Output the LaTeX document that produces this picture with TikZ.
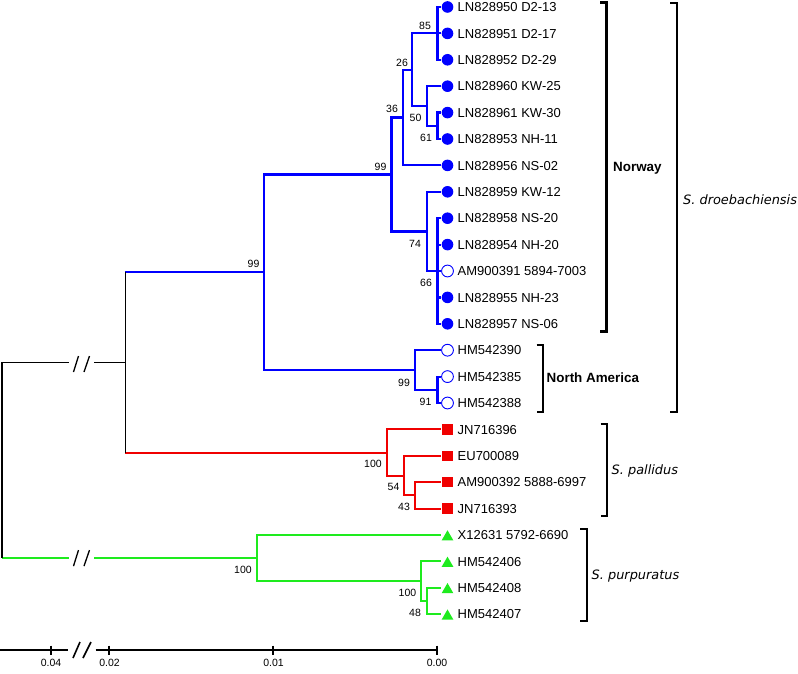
\documentclass[tikz,border=0pt]{standalone}
\usepackage{fontspec}
\setmainfont{Liberation Sans}
\newfontfamily\dvs{DejaVu Sans}
\usetikzlibrary{shapes.geometric,calc}
\definecolor{tblue}{RGB}{0,0,255}
\definecolor{tred}{RGB}{240,0,0}
\definecolor{tgreen}{RGB}{30,235,30}
\begin{document}
\begin{tikzpicture}[x=1pt,y=-1pt,
  blk/.style={draw=black,line width=1.1pt},
  bln/.style={draw=tblue,line width=2.2pt,line cap=rect},
  rdn/.style={draw=tred,line width=2pt,line cap=rect},
  grn/.style={draw=tgreen,line width=2pt,line cap=rect},
  sc/.style={draw=black,line width=1.8pt},
  bkt/.style={draw=black,line width=2.2pt},
  slashes/.pic={\draw[black,line width=1.3pt] (-7.5,8) -- (-2.5,-8) (3,8) -- (8.5,-8);},
  fc/.style={circle,fill=tblue,inner sep=0pt,minimum size=11.6pt},
  oc/.style={circle,draw=tblue,line width=0.9pt,fill=white,inner sep=0pt,minimum size=11.8pt},
  sq/.style={rectangle,fill=tred,inner sep=0pt,minimum size=10.3pt},
  tri/.style={regular polygon,regular polygon sides=3,fill=tgreen,inner sep=0pt,minimum size=13.5pt,yshift=-2pt},
  lab/.style={anchor=west,inner sep=0pt,font=\fontsize{13}{15}\selectfont,text height=9.3pt,text depth=0pt},
  bs/.style={inner sep=0pt,font=\fontsize{10.5}{12}\selectfont,text height=7.6pt,text depth=0pt},
  bold/.style={anchor=west,inner sep=0pt,font=\fontsize{13.4}{15}\selectfont\bfseries,text height=9.6pt,text depth=0pt},
  ital/.style={anchor=west,inner sep=0pt,font=\dvs\itshape\fontsize{12.9}{15}\selectfont,text height=9.4pt,text depth=0pt}
]
\useasboundingbox (0,0) rectangle (798,674);

% leaves
\foreach \k/\sym/\txt in {
  0/fc/LN828950 D2-13, 1/fc/LN828951 D2-17, 2/fc/LN828952 D2-29,
  3/fc/LN828960 KW-25, 4/fc/LN828961 KW-30, 5/fc/LN828953 NH-11,
  6/fc/LN828956 NS-02, 7/fc/LN828959 KW-12, 8/fc/LN828958 NS-20,
  9/fc/LN828954 NH-20, 10/oc/AM900391 5894-7003, 11/fc/LN828955 NH-23,
  12/fc/LN828957 NS-06, 13/oc/HM542390, 14/oc/HM542385, 15/oc/HM542388,
  16/sq/JN716396, 17/sq/EU700089, 18/sq/AM900392 5888-6997, 19/sq/JN716393,
  20/tri/X12631 5792-6690, 21/tri/HM542406, 22/tri/HM542408, 23/tri/HM542407} {
  \pgfmathsetmacro\yy{7+26.4*\k}
  \coordinate (t\k) at (440,\yy);
  \node[\sym] (s\k) at (447.5,\yy) {};
  \node[lab] (l\k) at (457.5,\yy) {\txt};
}

% internal nodes
\coordinate (A) at (437.5,33.4);
\coordinate (D) at (437.5,125.8);
\coordinate (C) at (427,106);
\coordinate (B) at (412,69.7);
\coordinate (E) at (403,117.5);
\coordinate (H) at (437.5,271);
\coordinate (G) at (427,231.4);
\coordinate (F) at (391.5,174.5);
\coordinate (K) at (437.5,389.8);
\coordinate (J) at (415,370);
\coordinate (I) at (264,272.2);
\coordinate (O) at (415,495.4);
\coordinate (N) at (404,475.6);
\coordinate (M) at (387,452.5);
\coordinate (L) at (125.3,362.4);
\coordinate (R) at (426.7,601);
\coordinate (Q) at (420.7,581.2);
\coordinate (P) at (257,558.1);
\coordinate (root) at (2,362.4);
\coordinate (rootb) at (2,558.1);

% blue clade
\draw[bln] (I) |- (F) (I) |- (J)
  (F) |- (E) (F) |- (G)
  (E) |- (B) (E) |- (t6)
  (B) |- (A) (B) |- (C)
  (A) |- (t0) (A) |- (t1) (A) |- (t2)
  (C) |- (t3) (C) |- (D)
  (D) |- (t4) (D) |- (t5)
  (G) |- (t7) (G) |- (H)
  (H) |- (t8) (H) |- (t9) (H) |- (t10) (H) |- (t11) (H) |- (t12)
  (J) |- (t13) (J) |- (K)
  (K) |- (t14) (K) |- (t15);
\draw[bln,line cap=butt] (L|-I) -- (I);

% red clade
\draw[rdn] (M) |- (t16) (M) |- (N)
  (N) |- (t17) (N) |- (O)
  (O) |- (t18) (O) |- (t19);
\draw[rdn,line cap=butt] (L|-M) -- (M);

% green clade
\draw[grn] (P) |- (t20) (P) |- (Q)
  (Q) |- (t21) (Q) |- (R)
  (R) |- (t22) (R) |- (t23);
\draw[grn,line cap=butt] (rootb) -- (69,558.1);
\draw[grn,line cap=butt] (94,558.1) -- (P);
\pic at (81,558.1) {slashes};

% black backbone
\draw[blk] (L|-I) -- (L|-M);
\draw[blk] (root) -- (rootb);
\draw[blk] (root) -- (69,362.4);
\draw[blk] (94,362.4) -- (L);
\pic at (81,364) {slashes};

% bootstrap values
\node[bs] (b85) at (425,26) {85};
\node[bs] (b26) at (402,63) {26};
\node[bs] (b36) at (392,109) {36};
\node[bs] (b50) at (415.5,118) {50};
\node[bs] (b61) at (426,138) {61};
\node[bs] (b99f) at (380.5,166.5) {99};
\node[bs] (b74) at (415,244) {74};
\node[bs] (b66) at (426,283) {66};
\node[bs] (b99i) at (253.5,263.5) {99};
\node[bs] (b99j) at (404,383) {99};
\node[bs] (b91) at (425.5,402) {91};
\node[bs] (b100m) at (373,464) {100};
\node[bs] (b54) at (393.5,487) {54};
\node[bs] (b43) at (404,507) {43};
\node[bs] (b100p) at (243,570) {100};
\node[bs] (b100q) at (407.5,593) {100};
\node[bs] (b48) at (415,613) {48};

% brackets
\draw[bkt] (600,2.5) -| (606.5,331.5) -- (600,331.5);
\draw[bkt] (536.5,345) -| (542.7,411.7) -- (536.5,411.7);
\draw[bkt] (670,3) -| (676.7,411.7) -- (670,411.7);
\draw[bkt] (600.5,424) -| (607.3,516) -- (600.5,516);
\draw[bkt] (580,529) -| (586.7,620.7) -- (580,620.7);
\node[bold] (norway) at (613,166.7) {Norway};
\node[bold] (namer) at (546.5,378) {North America};
\node[ital] (sdro) at (683,200) {S. droebachiensis};
\node[ital] (spal) at (611.5,470) {S. pallidus};
\node[ital] (spur) at (591.5,575) {S. purpuratus};

% scale bar
\coordinate (s04) at (50.7,650);
\coordinate (s02) at (109.3,650);
\coordinate (s01) at (273.3,650);
\coordinate (s00) at (436.7,650);
\draw[sc] (0,650) -- (68,650);
\draw[sc] (95.7,650) -- (s00);
\draw[sc,line width=1.6pt] (73,658) -- (80,642) (83,658) -- (91,642);
\foreach \t in {s04,s02,s01,s00} \draw[sc] ($(\t)+(0,-4.5)$) -- ($(\t)+(0,4.5)$);
\node[bs] (l04) at (51,663) {0.04};
\node[bs] (l02) at (109.5,663) {0.02};
\node[bs] (l01) at (273.5,663) {0.01};
\node[bs] (l00) at (437,663) {0.00};
\end{tikzpicture}
\end{document}
